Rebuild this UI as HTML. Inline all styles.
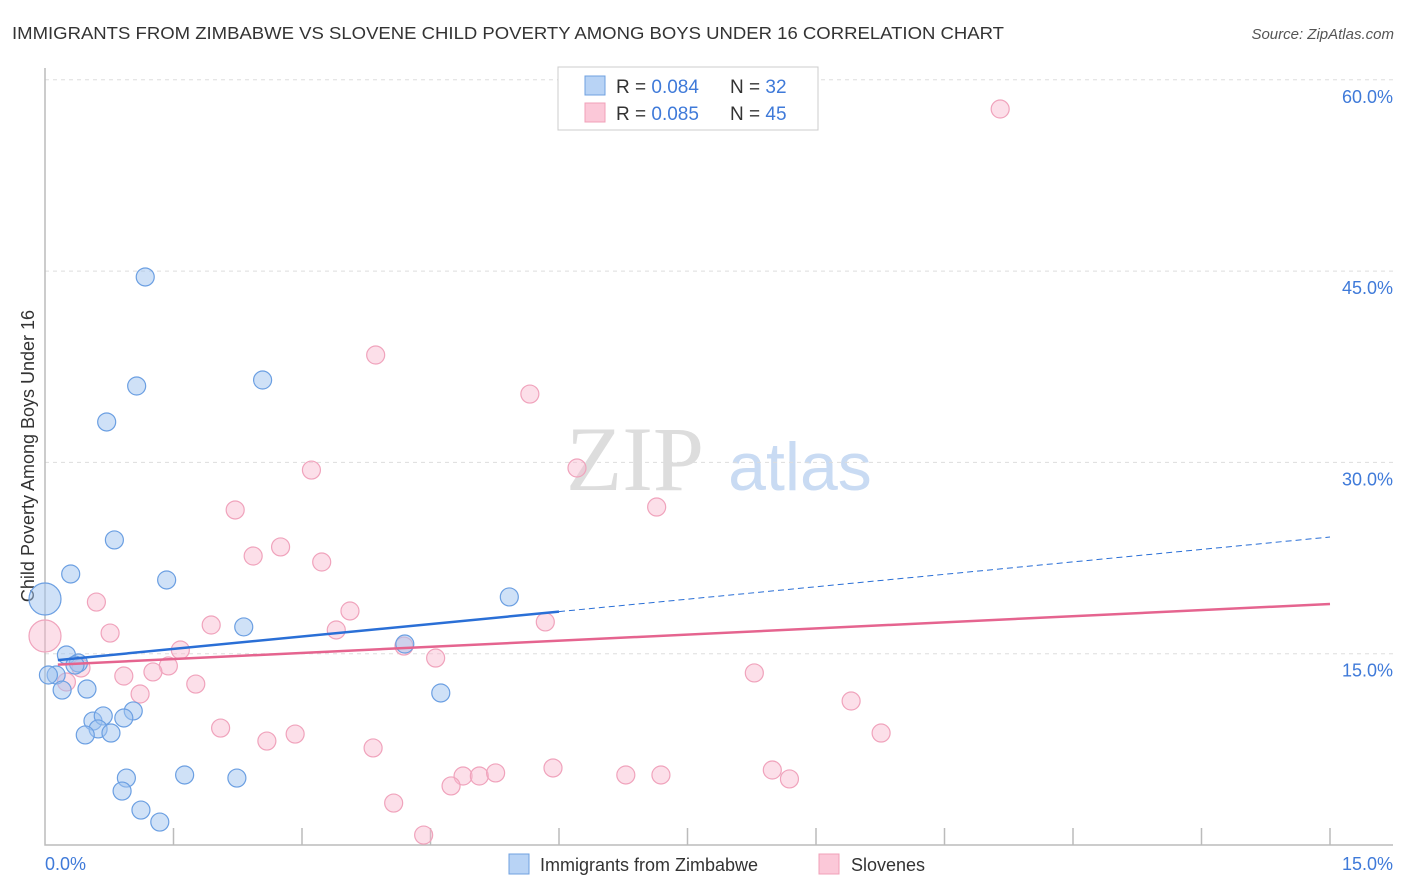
<!DOCTYPE html>
<html><head><meta charset="utf-8"><style>
body{margin:0;background:#fff;font-family:"Liberation Sans",sans-serif;}
</style></head><body>
<svg width="1406" height="892" xmlns="http://www.w3.org/2000/svg" style="display:block">
<text x="12" y="39" font-size="17.5" fill="#333" textLength="992" lengthAdjust="spacingAndGlyphs">IMMIGRANTS FROM ZIMBABWE VS SLOVENE CHILD POVERTY AMONG BOYS UNDER 16 CORRELATION CHART</text>
<text x="1394" y="39" font-size="15" fill="#555" font-style="italic" text-anchor="end">Source: ZipAtlas.com</text>
<g>
<text x="635" y="490" font-size="92" fill="#ddd" font-family="Liberation Serif" text-anchor="middle">ZIP</text>
<text x="800" y="490" font-size="68" fill="#c9dbf3" text-anchor="middle">atlas</text>
</g>
<g id="grid"></g>
<text transform="translate(34,456) rotate(-90)" font-size="18" fill="#333" text-anchor="middle">Child Poverty Among Boys Under 16</text>
<g id="marks"></g>
<g>
<rect x="558" y="67" width="260" height="63" fill="#fff" stroke="#ccc"/>
<rect x="585" y="76" width="20" height="19" fill="#b8d3f5" stroke="#6fa0e0"/>
<rect x="585" y="103" width="20" height="19" fill="#fbc8d8" stroke="#f0a0b8"/>
<text x="616" y="93" font-size="19" fill="#333">R = <tspan fill="#3f7ad9">0.084</tspan></text>
<text x="730" y="93" font-size="19" fill="#333">N = <tspan fill="#3f7ad9">32</tspan></text>
<text x="616" y="120" font-size="19" fill="#333">R = <tspan fill="#3f7ad9">0.085</tspan></text>
<text x="730" y="120" font-size="19" fill="#333">N = <tspan fill="#3f7ad9">45</tspan></text>
</g>
<g>
<rect x="509" y="854" width="20" height="20" fill="#b8d3f5" stroke="#6fa0e0"/>
<text x="540" y="871" font-size="18" fill="#333">Immigrants from Zimbabwe</text>
<rect x="819" y="854" width="20" height="20" fill="#fbc8d8" stroke="#f0a0b8"/>
<text x="851" y="871" font-size="18" fill="#333">Slovenes</text>
</g>
</svg>
<script>
const yTicks=[15,30,45,60];
const xTickLabels=["0.0%","15.0%"];
const blueX=[1.17,1.07,2.54,0.72,0.81,0.30,1.42,0.0,2.32,5.42,4.20,0.25,0.39,0.13,0.49,0.20,4.62,1.03,0.56,0.92,0.68,0.62,0.77,0.47,0.95,1.63,2.24,0.90,1.12,1.34,0.04,0.35];
const blueY=[44.54,35.99,36.46,33.17,23.92,21.25,20.78,19.29,17.10,19.45,15.76,14.90,14.27,13.33,12.23,12.15,11.92,10.51,9.72,9.96,10.12,9.10,8.78,8.63,5.25,5.49,5.25,4.23,2.74,1.80,13.33,14.11];
const blueBig=[7];
const pinkX=[11.15,3.86,5.66,6.21,3.11,7.14,2.22,2.75,2.43,3.23,0.60,3.56,5.84,0.76,1.94,3.40,1.58,4.19,4.56,0,0.42,1.44,1.26,0.92,0.25,1.76,1.11,8.28,9.41,2.05,9.76,2.59,2.92,3.83,5.93,4.88,5.07,5.26,4.74,4.07,4.42,6.78,7.19,8.49,8.69];
const pinkY=[57.71,38.42,35.36,29.56,29.40,26.50,26.27,23.37,22.66,22.19,19.05,18.35,17.49,16.62,17.25,16.86,15.29,15.60,14.66,16.39,13.88,14.04,13.57,13.25,12.78,12.62,11.84,13.49,11.29,9.17,8.78,8.15,8.70,7.61,6.04,5.41,5.41,5.65,4.63,3.29,0.78,5.49,5.49,5.88,5.18];
const pinkBig=[19];
const blueTrend=[14.4,0.65];
const pinkTrend=[14.1,0.32];
const blueSolidEnd=6.0;
const X=v=>45+v/15*1285;
const Y=v=>845-v/15*191.3;
const NS="http://www.w3.org/2000/svg";
function mk(t,a,p){const e=document.createElementNS(NS,t);for(const k in a)e.setAttribute(k,a[k]);p.appendChild(e);return e;}
const g=document.getElementById('grid'),m=document.getElementById('marks');
yTicks.forEach(t=>{
 const l=mk('line',{x1:45,x2:1393,y1:Y(t),y2:Y(t),stroke:'#ddd','stroke-dasharray':'4,4'},g);
 
 
 const tx=mk('text',{x:1393,y:Y(t)+23,'font-size':18,fill:'#3f7ad9','text-anchor':'end'},g);
 tx.textContent=t.toFixed(1)+'%';
 
 
});
const ax=mk('path',{d:'M45 68V845H1393',fill:'none',stroke:'#bbb','stroke-width':1.5},g);


for(let i=1;i<=10;i++){const x=X(i*1.5);const t=mk('line',{x1:x,x2:x,y1:828,y2:845,stroke:'#bbb','stroke-width':1.5},g);
 
 }
[[0,45,'start'],[1,1393,'end']].forEach(([i,x,a])=>{const t=mk('text',{x:x,y:870,'font-size':18,fill:'#3f7ad9','text-anchor':a},g);t.textContent=xTickLabels[i];
 
 });
function dots(xs,ys,big,fill,stroke,name){xs.forEach((v,i)=>{const c=mk('circle',{cx:X(v),cy:Y(ys[i]),r:big.includes(i)?16:9,fill:fill,stroke:stroke,'stroke-width':1.2},m);
 
 });}
dots(pinkX,pinkY,pinkBig,'rgba(248,185,206,0.45)','#f0a3bc','slovenes-point');
dots(blueX,blueY,blueBig,'rgba(160,196,240,0.5)','#6b9fe2','zimbabwe-point');
const tb=x=>blueTrend[0]+blueTrend[1]*x, tp=x=>pinkTrend[0]+pinkTrend[1]*x;
let l=mk('line',{x1:X(0.15),y1:Y(tb(0.15)),x2:X(blueSolidEnd),y2:Y(tb(blueSolidEnd)),stroke:'#2a6fd6','stroke-width':2.5},m);


l=mk('line',{x1:X(blueSolidEnd),y1:Y(tb(blueSolidEnd)),x2:X(15),y2:Y(tb(15)),stroke:'#2a6fd6','stroke-width':1,'stroke-dasharray':'6,4'},m);


l=mk('line',{x1:X(0.15),y1:Y(tp(0.15)),x2:X(15),y2:Y(tp(15)),stroke:'#e5648f','stroke-width':2.5},m);


</script>
</body></html>
